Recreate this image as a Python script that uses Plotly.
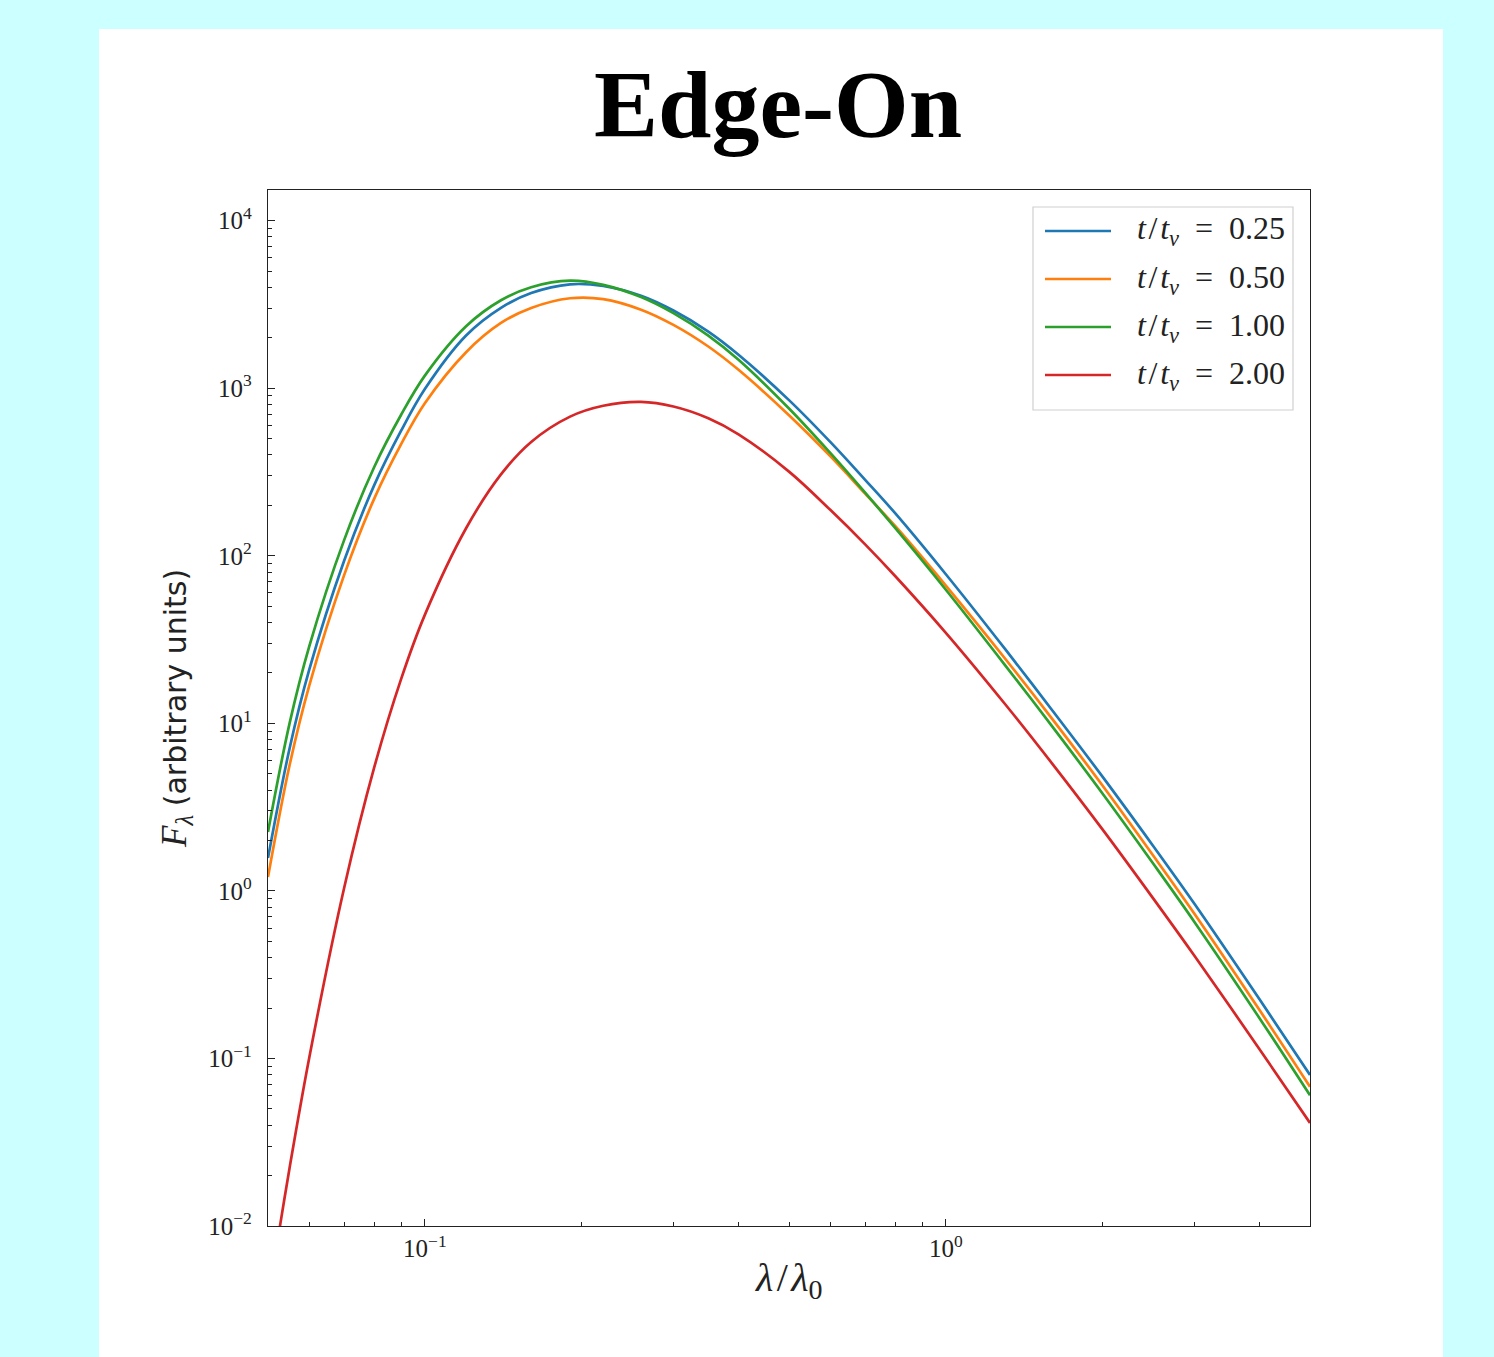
import plotly.graph_objects as go

# ---------------- data ----------------
series_names = ["0.25", "0.50", "1.00", "2.00"]
series_colors = ["#1f77b4", "#ff7f0e", "#2ca02c", "#d62728"]

x_common = [0.05, 0.055, 0.06, 0.07, 0.08, 0.09, 0.1, 0.12, 0.14, 0.16, 0.19, 0.22,
            0.26, 0.3, 0.35, 0.4, 0.5, 0.6, 0.7, 0.8, 1.0, 1.3, 1.6, 2.0, 2.5, 3.0, 4.0, 5.0]

y_025 = [1.57, 7.08, 20.9, 93.3, 265, 556, 989, 2065, 3020, 3698, 4169, 4074, 3565, 2911,
         2178, 1585, 849, 478, 284, 179, 77.6, 27.7, 11.97, 4.79, 1.854, 0.838, 0.2254, 0.0796]
y_050 = [1.21, 5.62, 16.8, 76.6, 220, 462, 813, 1641, 2452, 3013, 3443, 3404, 2944, 2388,
         1774, 1288, 690, 393, 235, 150, 66.4, 24.3, 10.64, 4.24, 1.626, 0.731, 0.1945, 0.0678]
y_100 = [2.25, 10.0, 28.8, 124, 340, 692, 1189, 2344, 3350, 4009, 4385, 4140, 3499, 2805,
         2061, 1479, 757, 411, 238, 146, 62.7, 22.2, 9.59, 3.80, 1.456, 0.653, 0.174, 0.0603]

x_red = [0.05, 0.0528, 0.055, 0.06, 0.07, 0.08, 0.09, 0.1, 0.12, 0.14, 0.16, 0.19, 0.22,
         0.26, 0.3, 0.35, 0.4, 0.5, 0.6, 0.7, 0.8, 1.0, 1.3, 1.6, 2.0, 2.5, 3.0, 4.0, 5.0]
y_200 = [0.0036, 0.0103, 0.0222, 0.101, 1.04, 5.49, 18.3, 44.4, 146, 306, 478, 677, 786,
         828, 778, 662, 531, 318, 188, 117, 75.5, 34.7, 13.0, 5.75, 2.32, 0.902, 0.410,
         0.1135, 0.0412]

xs = [x_common, x_common, x_common, x_red]
ys = [y_025, y_050, y_100, y_200]

x_major = [0.1, 1.0]
x_major_text = ["10<sup>\u22121</sup>", "10<sup>0</sup>"]
x_minor = [0.06, 0.07, 0.08, 0.09, 0.2, 0.3, 0.4, 0.5, 0.6, 0.7, 0.8, 0.9, 2, 3, 4]
y_major = [0.01, 0.1, 1, 10, 100, 1000, 10000]
y_major_text = ["10<sup>\u22122</sup>", "10<sup>\u22121</sup>", "10<sup>0</sup>",
                "10<sup>1</sup>", "10<sup>2</sup>", "10<sup>3</sup>", "10<sup>4</sup>"]
y_minor = [m * 10 ** e for e in range(-2, 5) for m in range(2, 10)]

# ---------------- figure ----------------
W, H = 1494, 1357
L, R, T, B = 268, 1310, 190, 1226
pw, ph = R - L, B - T


def px_x(p):
    return (p - L) / pw


def px_y(p):
    return (B - p) / ph


fig = go.Figure()
for x, y, name, col in zip(xs, ys, series_names, series_colors):
    fig.add_trace(go.Scatter(x=x, y=y, mode="lines", name=name,
                             line=dict(color=col, width=2.7, shape="spline", smoothing=1.0),
                             showlegend=False))

serif = "Liberation Serif"
axis_common = dict(type="log", showgrid=False, zeroline=False, showline=True,
                   linecolor="#222222", linewidth=1.4, mirror=True,
                   ticks="inside", ticklen=7, tickwidth=1.2, tickcolor="#222222",
                   tickfont=dict(family=serif, size=25, color="#222222"))

fig.update_xaxes(**axis_common, range=[-1.30103, 0.69897],
                 tickmode="array", tickvals=x_major, ticktext=x_major_text,
                 minor=dict(tickmode="array", tickvals=x_minor, ticks="inside",
                            ticklen=4, tickwidth=1, tickcolor="#222222", showgrid=False))
fig.update_yaxes(**axis_common, range=[-2, 4.183], ticklabelstandoff=10,
                 tickmode="array", tickvals=y_major, ticktext=y_major_text,
                 minor=dict(tickmode="array", tickvals=y_minor, ticks="inside",
                            ticklen=4, tickwidth=1, tickcolor="#222222", showgrid=False))

shapes = [
    dict(type="rect", xref="paper", yref="paper", layer="below",
         x0=px_x(99), x1=px_x(1443), y0=px_y(1400), y1=px_y(29),
         fillcolor="white", line=dict(width=0)),
    dict(type="rect", xref="paper", yref="paper", layer="above",
         x0=px_x(1033), x1=px_x(1293), y0=px_y(410), y1=px_y(207),
         fillcolor="rgba(255,255,255,0.8)", line=dict(color="#d0d0d0", width=1.2)),
]
annotations = [
    dict(text="<i>\u03bb</i>\u200a/\u200a<i>\u03bb</i><sub>0</sub>", xref="paper", yref="paper",
         x=px_x(788), y=px_y(1280), showarrow=False, xanchor="center", yanchor="middle",
         font=dict(family=serif, size=40, color="#222222")),
    dict(text="<i>F</i><sub><i>\u03bb</i></sub> <span style=\"font-family:'DejaVu Sans';font-size:30px\">(arbitrary units)</span>",
         xref="paper", yref="paper", x=px_x(177), y=px_y(709), showarrow=False,
         textangle=-90, xanchor="center", yanchor="middle",
         font=dict(family=serif, size=35, color="#222222")),
]
row0, step = 231, 48
for i, (name, col) in enumerate(zip(series_names, series_colors)):
    yy = px_y(row0 + i * step)
    shapes.append(dict(type="line", xref="paper", yref="paper", layer="above",
                       x0=px_x(1045), x1=px_x(1111), y0=yy, y1=yy,
                       line=dict(color=col, width=2.7)))
    annotations.append(dict(text="<i>t</i>\u200a/\u200a<i>t</i><sub><i>v</i></sub>\u2002=\u2002" + name,
                            xref="paper", yref="paper", x=px_x(1135), y=yy,
                            showarrow=False, xanchor="left", yanchor="middle",
                            font=dict(family=serif, size=32, color="#222222")))

fig.update_layout(
    width=W, height=H,
    margin=dict(l=L, r=W - R, t=T, b=H - B, pad=0),
    paper_bgcolor="#ccffff", plot_bgcolor="white",
    title=dict(text="<b>Edge-On</b>", xref="container", yref="container",
               x=778 / W, y=1 - 103 / H, xanchor="center", yanchor="middle",
               font=dict(family=serif, size=96, color="black")),
    shapes=shapes, annotations=annotations, showlegend=False,
)

fig.write_html("out.html", config={"displayModeBar": False},
               post_script="document.body.style.margin='0px';"
                           "document.body.style.background='#ccffff';")
